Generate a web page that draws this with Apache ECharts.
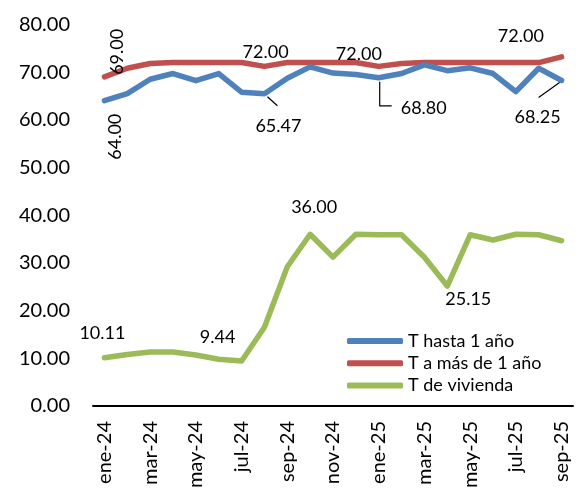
<!DOCTYPE html>
<html>
<head>
<meta charset="utf-8">
<script src="https://cdn.jsdelivr.net/npm/echarts@6/dist/echarts.min.js"></script>
<style>
  html, body { margin: 0; padding: 0; background: #fff; }
  #chart { width: 578px; height: 495px; }
</style>
</head>
<body>
<div id="chart"></div>
<script>
// meses (eje x)
const months = ['ene-24', 'feb-24', 'mar-24', 'abr-24', 'may-24', 'jun-24', 'jul-24', 'ago-24', 'sep-24', 'oct-24', 'nov-24', 'dic-24',
  'ene-25', 'feb-25', 'mar-25', 'abr-25', 'may-25', 'jun-25', 'jul-25', 'ago-25', 'sep-25'];
const seriesNames = ['T hasta 1 año', 'T a más de 1 año', 'T de vivienda'];
const hasta1 = [64.00, 65.5, 68.5, 69.7, 68.2, 69.7, 65.8, 65.47, 68.7, 71.1, 69.8, 69.5, 68.80, 69.7, 71.5, 70.3, 70.9, 69.7, 65.9, 70.8, 68.25];
const masDe1 = [69.00, 70.8, 71.8, 72.00, 72.00, 72.00, 72.00, 71.2, 72.00, 72.00, 72.00, 72.00, 71.2, 71.8, 72.00, 72.00, 72.00, 72.00, 72.00, 72.00, 73.2];
const vivienda = [10.11, 10.8, 11.3, 11.3, 10.7, 9.8, 9.44, 16.5, 29.2, 36.00, 31.2, 36.00, 35.9, 35.9, 31.2, 25.15, 35.9, 34.8, 36.00, 35.9, 34.65];
const colors = ['#4F81BD', '#C0504D', '#9BBB59'];

// etiquetas de datos: [serie, indice, dx, dy]
const labelSpots = [
  [0, 7, 14, 32], [0, 12, 45, 30], [0, 20, -24, 37],
  [1, 6, 24, -10], [1, 11, 3, -8], [1, 18, 5, -26],
  [2, 0, -2, -25], [2, 6, -24, -24], [2, 9, 4, -27], [2, 15, 21, 13]
];
// etiquetas verticales: [serie, indice, dx, dy]
const verticalLabels = [[0, 0, 11, 36], [1, 0, 13, -25]];
// lineas guia: [serie, indice, puntos relativos]
const leaders = [
  [0, 7, [[3, 3], [13, 12]]],
  [0, 12, [[1, 4], [1, 28], [13, 28]]],
  [0, 20, [[-2, 2], [-23, 17]]]
];

const allValues = [hasta1, masDe1, vivienda];

function buildData(s) {
  return allValues[s].map((v, i) => {
    const spot = labelSpots.find(l => l[0] === s && l[1] === i);
    if (!spot) return v;
    return {
      value: v,
      label: {
        show: true,
        position: 'inside',
        align: 'center',
        verticalAlign: 'middle',
        offset: [spot[2], spot[3]],
        formatter: p => p.value.toFixed(2)
      }
    };
  });
}

const font = 'Lato, "Open Sans", sans-serif';
let myChart = echarts.init(document.getElementById('chart'));
myChart.setOption({
  animation: false,
  textStyle: { fontFamily: font },
  grid: { left: 93, right: 5, top: 24.4, bottom: 89 },
  legend: {
    orient: 'vertical',
    left: 347,
    top: 331,
    padding: 0,
    itemGap: 2.3,
    itemWidth: 56,
    itemHeight: 6,
    icon: 'roundRect',
    data: seriesNames,
    textStyle: { fontSize: 18, color: '#000', lineHeight: 20, fontFamily: font }
  },
  xAxis: {
    type: 'category',
    data: months,
    boundaryGap: true,
    axisLine: { lineStyle: { color: '#000', width: 2 } },
    axisTick: { show: false },
    axisLabel: { interval: 1, rotate: 90, margin: 15, fontSize: 20, color: '#000', fontFamily: font }
  },
  yAxis: {
    type: 'value',
    min: 0,
    max: 80,
    interval: 10,
    splitLine: { show: false },
    axisLine: { show: false },
    axisTick: { show: false },
    axisLabel: { margin: 23, fontSize: 20, color: '#000', fontFamily: font, formatter: v => v.toFixed(2) }
  },
  series: [0, 1, 2].map(s => ({
    name: seriesNames[s],
    type: 'line',
    data: buildData(s),
    color: colors[s],
    symbol: 'circle',
    symbolSize: 0.1,
    showSymbol: true,
    silent: true,
    z: s === 0 ? 3 : 2,
    lineStyle: { width: 5.5, color: colors[s], cap: 'round', join: 'round' },
    itemStyle: { color: colors[s] },
    label: { show: false, fontSize: 18, color: '#000', fontFamily: font },
    emphasis: { disabled: true }
  }))
});

// lineas guia y etiquetas verticales
const graphics = leaders.map(([s, i, pts]) => {
  const c = myChart.convertToPixel({ seriesIndex: s }, [i, allValues[s][i]]);
  return {
    type: 'polyline',
    shape: { points: pts.map(p => [c[0] + p[0], c[1] + p[1]]) },
    style: { stroke: '#000', lineWidth: 1.2, fill: null },
    z: 10,
    silent: true
  };
});
verticalLabels.forEach(([s, i, dx, dy]) => {
  const c = myChart.convertToPixel({ seriesIndex: s }, [i, allValues[s][i]]);
  graphics.push({
    type: 'text',
    x: c[0] + dx,
    y: c[1] + dy,
    rotation: Math.PI / 2,
    z: 10,
    silent: true,
    style: {
      text: allValues[s][i].toFixed(2),
      fontSize: 18,
      fontFamily: font,
      fill: '#000',
      align: 'center',
      verticalAlign: 'middle'
    }
  });
});
myChart.setOption({ graphic: graphics });
</script>
</body>
</html>
